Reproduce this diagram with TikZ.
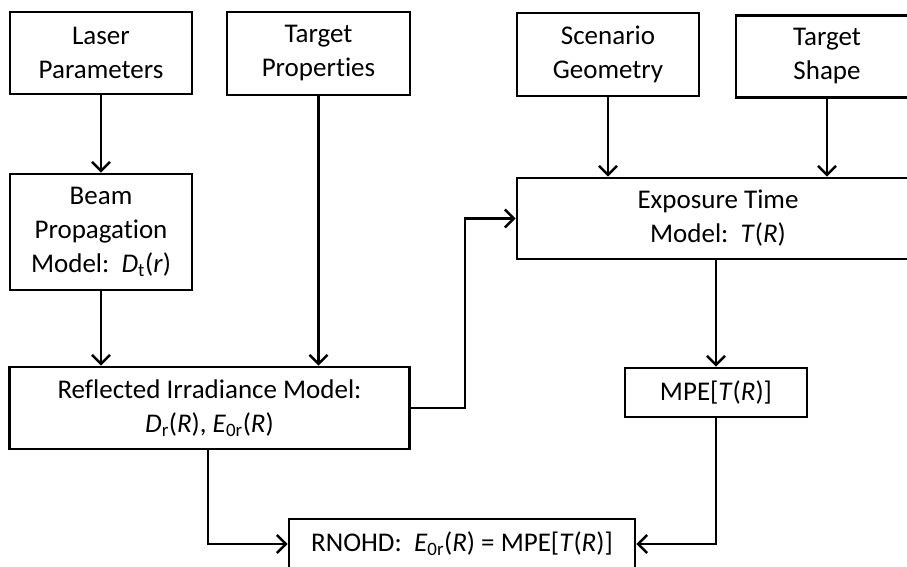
\documentclass[tikz,border=0pt]{standalone}
\usepackage{fontspec}
\setmainfont[Ligatures=NoCommon]{Carlito}
\usetikzlibrary{arrows.meta,calc}
\newcommand{\lowidx}[1]{\textsubscript{#1}}
\tikzset{block/.style={
    draw,
    line width=2.7pt,
    align=center,
    inner sep=0,
    font=\fontsize{27}{34}\selectfont}}
\tikzset{flow/.style={
    line width=2.5pt,
    -{Straight Barb[length=9pt,width=18pt,line width=2.5pt]}}}

\begin{document}
\begin{tikzpicture}[x=1pt, y=-1pt]
  \clip (0,0) rectangle (907,567);
  \fill[white] (0,0) rectangle (907,567);

  \coordinate (LP) at (101,53);
\coordinate (TP) at (318.5,53.5);
\coordinate (SG) at (608,54.5);
\coordinate (TS) at (827,56.5);
\coordinate (BP) at (101,232);
\coordinate (ET) at (718,218.5);
\coordinate (RI) at (209.5,408);
\coordinate (MP) at (716,392.5);
\coordinate (RN) at (462,544);

\node[block,
  minimum width=182pt,
  minimum height=82pt] (laser) at (LP) {Laser\\Parameters};

\node[block,
  minimum width=183pt,
  minimum height=83pt] (tprop) at (TP) {Target\\Properties};

\node[block,
  minimum width=182pt,
  minimum height=83pt] (scen) at (SG) {Scenario\\Geometry};

\node[block,
  minimum width=182pt,
  minimum height=82pt] (tshape) at (TS) {Target\\Shape};

\node[block,
  minimum width=182pt,
  minimum height=116pt] (beam) at (BP)
  {Beam\\Propagation\\Model:\ \ \textit{D}\lowidx{t}(\textit{r})};

\node[block,
  minimum width=402pt,
  minimum height=81pt] (expo) at (ET)
  {Exposure Time\\Model:\ \ \textit{T}(\textit{R})};

\node[block,
  minimum width=400pt,
  minimum height=82pt] (refl) at (RI)
  {Reflected Irradiance Model:\\\textit{D}\lowidx{r}(\textit{R}), \textit{E}\lowidx{0r}(\textit{R})};

\node[block,
  minimum width=182pt,
  minimum height=49pt] (mpe) at (MP) {MPE[\textit{T}(\textit{R})]};

\node[block,
  minimum width=346pt,
  minimum height=50pt] (rnohd) at (RN)
  {RNOHD:\ \ \textit{E}\lowidx{0r}(\textit{R}) = MPE[\textit{T}(\textit{R})]};

  \coordinate (riturn) at (465,408);
  \coordinate (riout) at (208,449);

  \draw[flow] (laser) -- (beam);
  \draw[flow] (beam) -- (beam |- refl.north);
  \draw[flow] (tprop) -- (tprop |- refl.north);
  \draw[flow] (scen) -- (scen |- expo.north);
  \draw[flow] (tshape) -- (tshape |- expo.north);
  \draw[flow] (refl.east |- riturn) -- (riturn) |- (expo.west);
  \draw[flow] (expo.south -| mpe) -- (mpe.north);
  \draw[flow] (mpe.south) |- (rnohd.east);
  \draw[flow] (riout) |- (rnohd.west);
\end{tikzpicture}
\end{document}
